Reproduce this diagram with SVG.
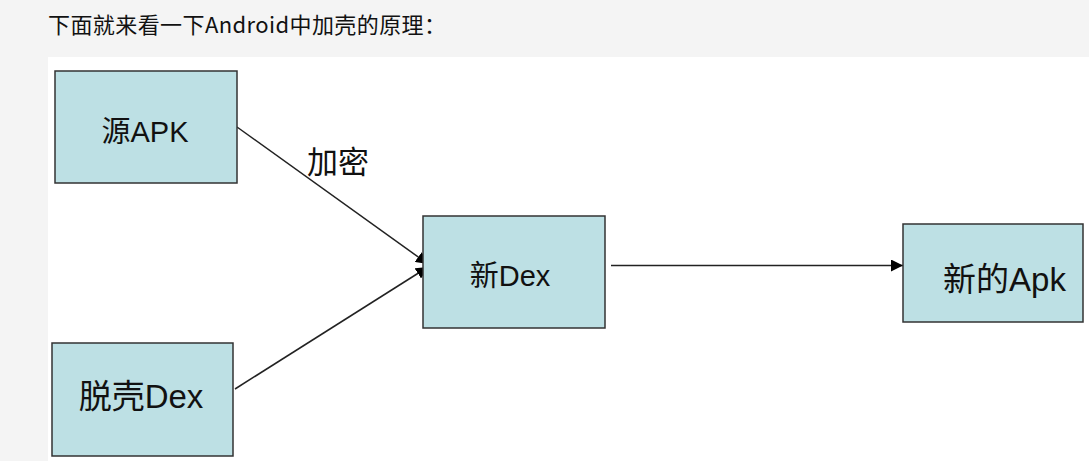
<svg xmlns="http://www.w3.org/2000/svg" width="1089" height="461" viewBox="0 0 1089 461">
<defs>
<style>
.box{fill:#bde0e4;stroke:#333;stroke-width:1.5}
.lbl{font-family:"Liberation Sans","Noto Sans CJK SC",sans-serif;fill:#111}
.conn{stroke:#222;stroke-width:1.5;fill:none}
</style>
<marker id="ah" viewBox="0 0 10 10" refX="10" refY="5" markerWidth="12" markerHeight="12" markerUnits="userSpaceOnUse" orient="auto">
<path d="M0,0 L10,5 L0,10 z" fill="#000"/>
</marker>
<marker id="ah2" viewBox="0 0 10 10" refX="10" refY="5" markerWidth="12" markerHeight="12" markerUnits="userSpaceOnUse" orient="auto">
<path d="M0,0 L10,5 L0,10 z" fill="#000"/>
</marker>
</defs>
<rect x="0" y="0" width="1089" height="461" fill="#f4f4f4"/>
<rect x="48" y="57" width="1041" height="404" fill="#fff"/>
<text x="48" y="33" font-family="'Noto Sans CJK SC','Noto Sans',sans-serif" font-size="22" fill="#111" textLength="398" lengthAdjust="spacing">下面就来看一下Android中加壳的原理：</text>
<g id="connectors">
<line class="conn" x1="237" y1="127" x2="428" y2="264" marker-end="url(#ah)"/>
<line class="conn" x1="235" y1="389" x2="428" y2="267" marker-end="url(#ah)"/>
<line class="conn" x1="611" y1="265.5" x2="903" y2="265.5" marker-end="url(#ah2)"/>
<text class="lbl" x="307" y="173" font-size="31">加密</text>
</g>
<g id="src-apk">
<rect class="box" x="55" y="71" width="182" height="112"/>
<text class="lbl" x="145" y="142" font-size="29" text-anchor="middle">源APK</text>
</g>
<g id="unshell-dex">
<rect class="box" x="52" y="343" width="181" height="113"/>
<text class="lbl" x="141" y="408" font-size="33" text-anchor="middle">脱壳Dex</text>
</g>
<g id="new-dex">
<rect class="box" x="423" y="216" width="182" height="112"/>
<text class="lbl" x="510" y="286" font-size="29" text-anchor="middle">新Dex</text>
</g>
<g id="new-apk">
<rect class="box" x="903" y="224" width="180" height="98"/>
<text class="lbl" x="1004.5" y="291" font-size="33" text-anchor="middle">新的Apk</text>
</g>
</svg>
